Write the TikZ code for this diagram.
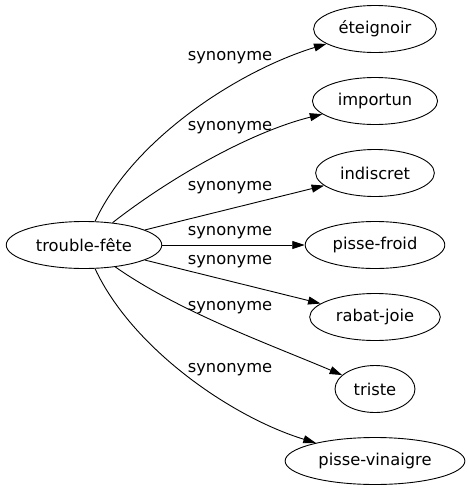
\documentclass[tikz,border=0pt]{standalone}
\usepackage{fontspec}
\setmainfont{DejaVu Sans}
\usetikzlibrary{shapes.geometric,arrows.meta}

\begin{document}
\begin{tikzpicture}[x=1pt,y=-1pt,line width=0.9pt,
    every node/.style={font=\fontsize{16.3}{19}\selectfont},
    word/.style={draw,ellipse,minimum height=47pt,inner xsep=7pt,inner ysep=1pt}]
  \useasboundingbox (0,0) rectangle (467,491);
  \node[word] (tf) at (84,245) {trouble-fête};
  \node[word] (et) at (375,29) {éteignoir};
  \node[word] (im) at (375,101) {importun};
  \node[word] (in) at (375,173) {indiscret};
  \node[word] (pf) at (375,245) {pisse-froid};
  \node[word] (rj) at (375,317) {rabat-joie};
  \node[word] (tr) at (375,389) {triste};
  \node[word] (pv) at (375,461) {pisse-vinaigre};
  \path[-{Triangle[length=12.5pt,width=8pt]}]
    (tf) edge[out=65,in=197,looseness=0.8] (et)
    (tf) edge[out=38,in=194,looseness=0.8] (im)
    (tf) edge (in)
    (tf) edge (pf)
    (tf) edge (rj)
    (tf) edge[out=-35,in=157,looseness=0.8] (tr)
    (tf) edge[out=-65,in=163,looseness=0.8] (pv);
  % edge labels
  \foreach \y [count=\i] in {58,128,188,233,262,308,370}
    \node (lab\i) at (230,\y) {synonyme};
\end{tikzpicture}
\end{document}
